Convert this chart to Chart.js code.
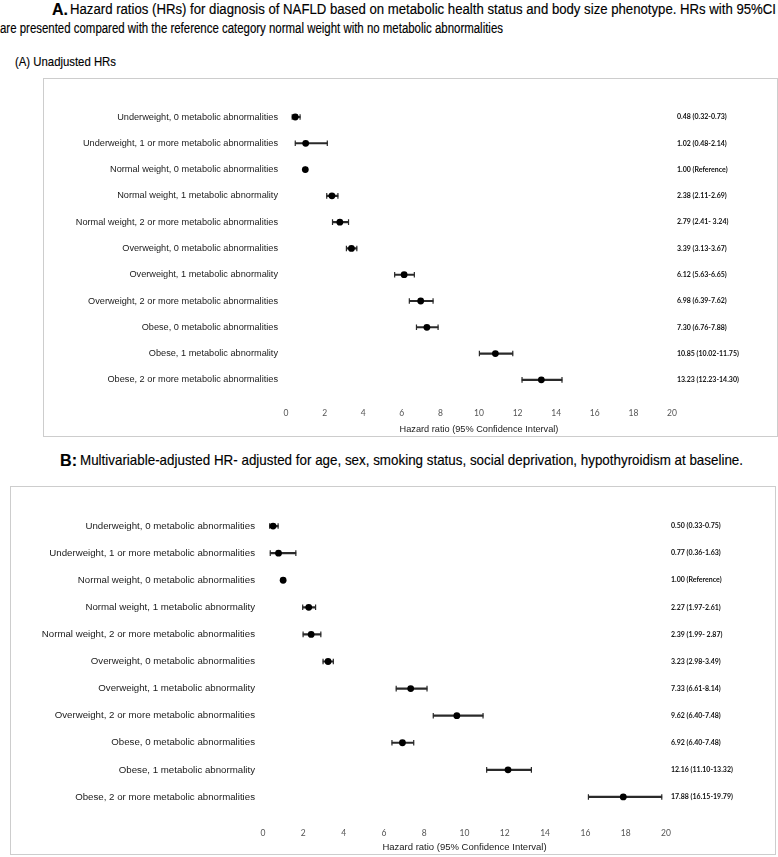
<!DOCTYPE html>
<html><head><meta charset="utf-8">
<script src="https://cdn.jsdelivr.net/npm/chart.js@4.4.1/dist/chart.umd.min.js"></script>
<style>
html,body{margin:0;padding:0;background:#fff;}
body{width:778px;height:857px;position:relative;overflow:hidden;font-family:'Liberation Sans',Arial,sans-serif;color:#000;}
.t{position:absolute;white-space:nowrap;transform-origin:0 50%;-webkit-text-stroke:0.15px #000;}
.box{position:absolute;border:1.5px solid #cdcdcd;box-sizing:border-box;}
canvas{position:absolute;}
</style></head><body>
<div class="box" style="left:43px;top:78px;width:735px;height:359px"></div>
<div class="box" style="left:10px;top:486px;width:766px;height:369px"></div>
<canvas id="cA" width="732" height="356" style="left:44px;top:79px"></canvas>
<canvas id="cB" width="763" height="366" style="left:11px;top:487px"></canvas>
<script>
// ---- data ----
const categories = [
  'Underweight, 0 metabolic abnormalities',
  'Underweight, 1 or more metabolic abnormalities',
  'Normal weight, 0 metabolic abnormalities',
  'Normal weight, 1 metabolic abnormality',
  'Normal weight, 2 or more metabolic abnormalities',
  'Overweight, 0 metabolic abnormalities',
  'Overweight, 1 metabolic abnormality',
  'Overweight, 2 or more metabolic abnormalities',
  'Obese, 0 metabolic abnormalities',
  'Obese, 1 metabolic abnormality',
  'Obese, 2 or more metabolic abnormalities'
];
const hrA = [0.48, 1.02, 1.00, 2.38, 2.79, 3.39, 6.12, 6.98, 7.30, 10.85, 13.23];
const loA = [0.32, 0.48, 1.00, 2.11, 2.41, 3.13, 5.63, 6.39, 6.76, 10.02, 12.23];
const hiA = [0.73, 2.14, 1.00, 2.69, 3.24, 3.67, 6.65, 7.62, 7.88, 11.75, 14.30];
const textA = ['0.48 (0.32-0.73)', '1.02 (0.48-2.14)', '1.00 (Reference)', '2.38 (2.11-2.69)',
  '2.79 (2.41- 3.24)', '3.39 (3.13-3.67)', '6.12 (5.63-6.65)', '6.98 (6.39-7.62)',
  '7.30 (6.76-7.88)', '10.85 (10.02-11.75)', '13.23 (12.23-14.30)'];
const hrB = [0.50, 0.77, 1.00, 2.27, 2.39, 3.23, 7.33, 9.62, 6.92, 12.16, 17.88];
const loB = [0.33, 0.36, 1.00, 1.97, 1.99, 2.98, 6.61, 8.45, 6.40, 11.10, 16.15];
const hiB = [0.75, 1.63, 1.00, 2.61, 2.87, 3.49, 8.14, 10.92, 7.48, 13.32, 19.79];
const textB = ['0.50 (0.33-0.75)', '0.77 (0.36-1.63)', '1.00 (Reference)', '2.27 (1.97-2.61)',
  '2.39 (1.99- 2.87)', '3.23 (2.98-3.49)', '7.33 (6.61-8.14)', '9.62 (6.40-7.48)',
  '6.92 (6.40-7.48)', '12.16 (11.10-13.32)', '17.88 (16.15-19.79)'];
const xTicks = [0, 2, 4, 6, 8, 10, 12, 14, 16, 18, 20];
const axisTitle = 'Hazard ratio (95% Confidence Interval)';

// ---- titles ----
const texts = [
  {t:'A.', x:52, y:9, w:16, s:17, b:true},
  {t:'Hazard ratios (HRs) for diagnosis of NAFLD based on metabolic health status and body size phenotype. HRs with 95%CI', x:70, y:9, w:706, s:14},
  {t:'are presented compared with the reference category normal weight with no metabolic abnormalities', x:0, y:28, w:503, s:14},
  {t:'(A) Unadjusted HRs', x:15, y:61, w:101, s:13},
  {t:'B:', x:60, y:460, w:17, s:17, b:true},
  {t:'Multivariable-adjusted HR- adjusted for age, sex, smoking status, social deprivation, hypothyroidism at baseline.', x:80, y:460, w:663, s:14.5}
];
texts.forEach(o => {
  const d = document.createElement('div');
  d.className = 't';
  d.textContent = o.t;
  d.style.fontSize = o.s + 'px';
  d.style.lineHeight = o.s + 'px';
  d.style.left = o.x + 'px';
  d.style.top = (o.y - o.s / 2) + 'px';
  if (o.b) d.style.fontWeight = 'bold';
  document.body.appendChild(d);
  const w = d.getBoundingClientRect().width;
  d.style.transform = 'scaleX(' + (o.w / w) + ')';
});

// ---- charts ----
function makeChart(id, hr, lo, hi, txt, g) {
  new Chart(document.getElementById(id), {
    type: 'bar',
    data: {
      labels: categories,
      datasets: [
        {type: 'bar', indexAxis: 'y', xAxisID: 'x', yAxisID: 'y', order: 3,
         data: lo.map((v, i) => [v, hi[i]]), backgroundColor: '#2a2a2a',
         barThickness: 1.5, borderWidth: 0},
        {type: 'line', indexAxis: 'y', xAxisID: 'x', yAxisID: 'y', order: 2, showLine: false,
         data: lo.map((v, i) => ({x: v, y: categories[i]})).concat(hi.map((v, i) => ({x: v, y: categories[i]}))),
         pointStyle: 'line', pointRadius: 2.8, pointRotation: 90, pointBorderWidth: 1.2,
         pointBorderColor: '#2a2a2a', pointBackgroundColor: '#2a2a2a'},
        {type: 'line', indexAxis: 'y', xAxisID: 'x', yAxisID: 'y', order: 1, showLine: false,
         data: hr.map((v, i) => ({x: v, y: categories[i]})),
         pointStyle: 'circle', pointRadius: 3.4, pointBorderWidth: 0,
         pointBackgroundColor: '#000', pointBorderColor: '#000'}
      ]
    },
    options: {
      indexAxis: 'y',
      responsive: false,
      animation: false,
      events: [],
      devicePixelRatio: 1,
      layout: {padding: {top: g.padTop, left: 0, right: 0, bottom: 0}},
      plugins: {legend: {display: false}, tooltip: {enabled: false}},
      scales: {
        x: {type: 'linear', position: 'bottom', min: 0, max: 20,
            afterBuildTicks: s => { s.ticks = xTicks.map(v => ({value: v})); },
            afterFit: s => { s.height = g.xH; },
            grid: {display: false, drawTicks: false}, border: {display: false},
            ticks: {padding: g.tickPad, color: '#555', font: {family: 'Lato', size: 8.5}},
            title: {display: true, text: axisTitle, color: '#1a1a1a', padding: 0,
                    font: {family: 'Liberation Sans', size: g.titleSize}}},
        y: {type: 'category', position: 'left', offset: true,
            afterFit: s => { s.width = g.yW; },
            grid: {display: false, drawTicks: false}, border: {display: false},
            ticks: {padding: 8, color: '#1a1a1a', font: {family: 'Liberation Sans', size: g.labelSize}}},
        yR: {type: 'category', position: 'right', offset: true, labels: txt,
            afterFit: s => { s.width = g.yRW; },
            grid: {display: false, drawTicks: false}, border: {display: false},
            ticks: {padding: 5, color: '#111', font: {family: 'Lato', size: 7, weight: 'bold'}}}
      }
    }
  });
}
makeChart('cA', hrA, loA, hiA, textA, {padTop: 24.85, yW: 242, yRW: 104, xH: 42, labelSize: 9.2, titleSize: 9.2, tickPad: 15.5});
makeChart('cB', hrB, loB, hiB, textB, {padTop: 25.5, yW: 252, yRW: 108, xH: 42.5, labelSize: 9.7, titleSize: 9.5, tickPad: 18});
</script>
</body></html>
